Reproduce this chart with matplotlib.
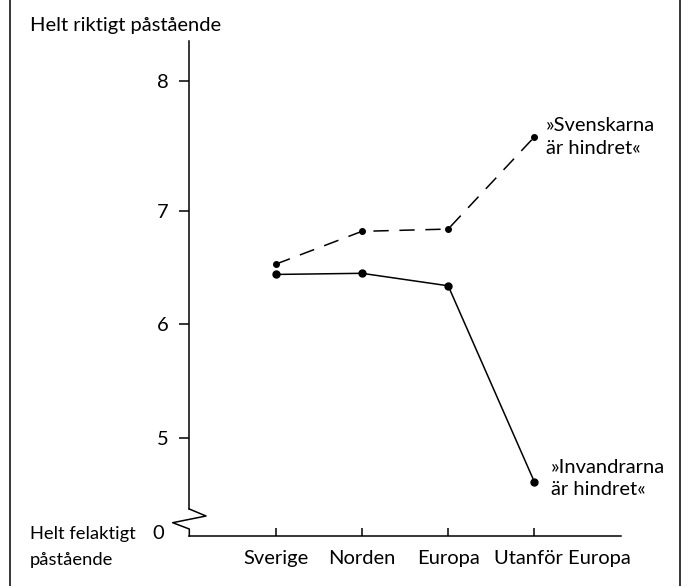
import matplotlib.pyplot as plt
import matplotlib.transforms as mtransforms
import numpy as np
from matplotlib.lines import Line2D

plt.rcParams['font.family'] = ['Lato', 'DejaVu Sans']

regions = ['Sverige', 'Norden', 'Europa', 'Utanför Europa']
invandrarna = [6.44, 6.45, 6.34, 4.61]
svenskarna = [6.53, 6.82, 6.84, 7.57]
yticks = [5, 6, 7, 8]

# the original axis gives the 7-8 step more room than the other steps
k = 130 / 113.5


def fwd(y):
    y = np.asarray(y, dtype=float)
    return np.where(y > 7, 7 + (y - 7) * k, y)


def inv(v):
    v = np.asarray(v, dtype=float)
    return np.where(v > 7, 7 + (v - 7) / k, v)


fs = 14.5

fig = plt.figure(figsize=(6.81, 5.86), dpi=100)
ax = fig.add_axes([0.278, 0.0853, 0.6335, 0.8452])
ax.set_yscale('function', functions=(fwd, inv))

x = np.arange(len(regions))
ax.plot(x, invandrarna, color='black', lw=1.1, marker='o', ms=5, clip_on=False)
ax.plot(x, svenskarna, color='black', lw=1.1, marker='o', ms=4,
        dashes=(10, 7), clip_on=False)

ax.set_xlim(-1, 4)
ax.set_ylim(4.134, 8.31)

ax.spines['top'].set_visible(False)
ax.spines['right'].set_visible(False)
ax.spines['left'].set_bounds(4.372, 8.31)
ax.spines['left'].set_linewidth(1.1)
ax.spines['bottom'].set_linewidth(1.1)

ax.set_yticks(yticks)
ax.set_yticklabels([str(t) for t in yticks])
ax.yaxis.set_minor_locator(plt.NullLocator())
ax.tick_params(axis='y', direction='out', length=7, width=1.1, pad=8, labelsize=fs)
ax.set_xticks(x)
ax.set_xticklabels(regions)
ax.tick_params(axis='x', direction='in', length=6, width=1.1, pad=10, labelsize=fs)

# last label sits to the right of its tick in the original
last = ax.get_xticklabels()[-1]
last.set_transform(last.get_transform() + mtransforms.ScaledTranslation(0.28, 0, fig.dpi_scale_trans))

# axis break at the bottom of the y axis
zx = [0, 0.0387, -0.0385, 0, 0]
zy = [0.0545, 0.0404, 0.0269, 0.0141, 0]
ax.plot(zx, zy, color='black', lw=1.1, transform=ax.transAxes, clip_on=False)
ax.text(-0.058, 0.005, '0', transform=ax.transAxes, ha='right', va='center', fontsize=fs)

ax.text(3.13, 7.57, '»Svenskarna\när hindret«', ha='left', va='center',
        fontsize=fs, linespacing=1.4)
ax.text(3.19, 4.64, '»Invandrarna\när hindret«', ha='left', va='center',
        fontsize=fs, linespacing=1.4)

fig.text(30 / 681, 1 - 26 / 586, 'Helt riktigt påstående', ha='left', va='center', fontsize=fs)
fig.text(30 / 681, 1 - 547 / 586, 'Helt felaktigt\npåstående', ha='left', va='center',
         fontsize=13.2, linespacing=1.75)

# frame lines of the original figure
fig.add_artist(Line2D([10 / 681, 10 / 681], [0, 1], color='black', lw=1.1))
fig.add_artist(Line2D([679.5 / 681, 679.5 / 681], [0, 1], color='black', lw=1.1))

fig.savefig('out.png', dpi=100)
